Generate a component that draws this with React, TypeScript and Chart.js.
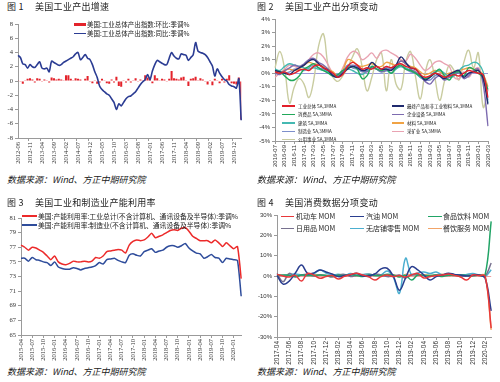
import React, { useEffect, useRef } from "react";
import { Chart, registerables } from "chart.js";
Chart.register(...registerables);

const CJK = '"Noto Sans CJK SC", "Noto Sans", sans-serif';
const SERIF = '"Liberation Serif", "DejaVu Serif", serif';
const SANS = '"Liberation Sans", "DejaVu Sans", sans-serif';

function monthLabels(y: number, m: number, n: number): string[] {
  const out: string[] = [];
  for (let i = 0; i < n; i++) {
    const t = m - 1 + i;
    out.push(`${y + Math.floor(t / 12)}-${String((t % 12) + 1).padStart(2, "0")}`);
  }
  return out;
}

// ---------- Chart 1 ----------
const c1Labels = monthLabels(2012, 6, 94);
const c1YoY = [
  3.6, 3.3, 2.4, 2.3, 1.8, 2.3, 2.0, 1.9, 2.3, 2.7,
  1.8, 1.7, 1.8, 1.3, 2.8, 2.6, 2.4, 2.2, 2.3, 2.6,
  2.8, 3.0, 3.2, 3.4, 3.8, 4.0, 3.0, 3.3, 3.7, 3.2,
  3.0, 2.3, 1.3, 0.5, -0.7, -1.2, -1.5, -1.8, -2.0, -2.5,
  -3.0, -4.0, -3.2, -3.5, -3.0, -2.5, -2.2, -2.1, -1.8, -1.5,
  -1.0, -0.5, -0.1, 0.2, 0.9, 0.2, 1.4, 2.3, 2.9, 2.7,
  2.5, 2.3, 2.3, 3.2, 4.0, 3.5, 3.2, 3.1, 3.8, 3.7,
  3.6, 2.9, 3.3, 3.7, 5.4, 4.2, 4.0, 3.9, 3.7, 3.3,
  2.7, 2.1, 0.7, 1.7, 1.1, 0.6, 0.2, 0.0, -0.5, -0.7,
  -0.8, -1.0, 0.3, -5.5,
];
const c1MoM = [
  0.1, -0.1, -0.4, 0.1, 0.3, 0.4, 0.2, -0.2, 0.4, 0.3,
  -0.1, 0.2, 0.1, -0.2, 0.5, 0.4, 0.2, 0.3, 0.2, 0.1,
  0.8, 0.8, 0.3, 0.1, 0.4, 0.3, 0.2, 0.0, 0.3, 0.7,
  -0.1, -0.3, 0.1, -0.4, -0.2, 0.3, 0.1, -0.3, -0.4, 0.2,
  -0.2, 0.6, -0.7, -0.8, 0.1, -0.2, 0.3, -0.2, 0.1, 0.4,
  -0.1, 0.2, 0.1, 0.8, 0.5, 0.5, -0.3, 0.8, 0.4, 0.1,
  0.3, 0.2, -0.1, 0.3, 1.4, 0.4, 0.3, 0.2, 0.5, 0.6,
  0.1, -0.7, 0.3, 0.4, 0.6, 0.1, 0.4, 0.2, -0.1, -0.5,
  0.1, -0.6, 0.3, 0.1, -0.3, 0.3, -0.2, 0.3, 0.8, -0.3,
  -0.4, -0.5, 0.5, -5.4,
];

// ---------- Chart 2 ----------
const c2Labels = monthLabels(2016, 7, 45);
const c2Total = [
  0.1, 0.0, 0.1, -0.1, 0.0, 0.2, 0.3, 0.2, 0.5, 0.6,
  0.4, 0.2, 0.0, -0.3, -0.1, 0.5, 0.8, 0.6, 0.3, 0.4,
  0.3, 0.5, 0.3, 0.5, 0.4, 0.6, 0.7, 0.5, 0.4, 0.3,
  -0.1, -0.3, -0.2, 0.0, -0.1, -0.3, -0.2, -0.1, -0.2, 0.0,
  0.2, 0.1, 0.0, -0.1, -1.8,
];
const c2Final = [
  0.2, 0.1, 0.0, -0.1, 0.2, 0.4, 0.6, 0.9, 1.0, 0.7,
  0.4, 0.2, -0.2, -0.3, 0.0, 0.3, 0.5, 0.4, 0.2, 0.3,
  0.8, 0.5, 0.3, 0.3, 0.2, 0.6, 1.2, 0.8, 0.4, 0.3,
  -0.1, -0.5, -0.3, 0.0, -0.2, -0.4, -0.1, 0.1, 0.2, -0.3,
  0.0, 0.1, 0.2, -0.4, -2.3,
];
const c2Consumer = [
  0.2, 0.1, -0.2, -0.5, -0.5, -0.2, 0.3, 0.5, 0.7, 0.4,
  0.2, 0.0, -0.2, -0.1, 0.2, 0.4, 0.5, 0.3, -0.4, -0.2,
  0.5, 0.3, 0.2, 0.3, 0.0, 0.4, 0.6, 0.3, 0.2, 0.0,
  -0.2, -0.4, -0.3, 0.0, 0.3, -0.2, -0.5, 0.0, 0.1, -0.2,
  0.4, 0.3, 0.0, -0.3, -1.2,
];
const c2Equip = [
  0.0, -0.1, 0.2, 0.4, 0.6, 0.5, 0.7, 1.0, 1.1, 0.8,
  0.6, 0.3, -0.1, -0.2, 0.1, 0.5, 0.6, 0.5, 0.2, 0.1,
  0.4, 0.3, 0.1, 0.2, 0.3, 0.5, 0.9, 0.7, 0.3, 0.1,
  -0.2, -0.6, -0.8, -0.4, -0.2, -0.5, -0.3, -0.1, 0.0, -0.4,
  -0.2, 0.2, 0.3, -0.8, -3.9,
];
const c2Construction = [
  0.3, 0.2, 0.5, 0.7, 0.6, 0.5, 0.4, 0.3, 0.4, 0.3,
  0.2, 0.1, -0.2, -0.1, 0.2, 0.3, 0.2, 0.0, -0.1, 0.2,
  0.5, 0.3, 0.1, 0.2, 0.0, 0.3, 0.5, 0.4, 0.2, 0.0,
  -0.3, -0.4, -0.2, 0.1, 0.2, 0.0, -0.3, -0.2, 0.2, 0.5,
  0.6, 0.8, 0.7, 0.1, -2.2,
];
const c2Materials = [
  0.1, 0.0, 0.2, 0.3, 0.2, 0.3, 0.6, 0.8, 0.7, 0.6,
  0.5, 0.3, 0.1, -0.2, 0.2, 1.0, 0.9, 0.6, 0.5, 0.6,
  0.7, 0.5, 0.5, 0.8, 0.7, 0.6, 0.9, 0.7, 0.5, 0.4,
  0.1, -0.1, 0.0, 0.2, 0.1, -0.1, 0.0, 0.1, 0.2, 0.3,
  0.4, 0.3, 0.2, -0.1, -1.0,
];
const c2Manuf = [
  0.1, 0.1, 0.0, 0.1, 0.3, 0.3, 0.2, 0.4, 0.6, 0.4,
  0.3, 0.1, -0.1, -0.2, 0.1, 0.6, 0.4, 0.3, 0.1, 0.2,
  0.4, 0.3, 0.2, 0.4, 0.3, 0.4, 0.5, 0.3, 0.1, 0.0,
  -0.3, -0.5, -0.5, -0.2, -0.1, -0.3, -0.2, 0.0, 0.1, -0.2,
  -0.1, 0.1, 0.0, -0.3, -2.0,
];
const c2Mining = [
  -0.3, 0.0, 0.3, 0.6, 0.5, 0.4, 0.6, 1.0, 1.4, 1.5,
  1.2, 0.6, 0.0, -0.2, 0.4, 1.2, 1.6, 1.5, 1.0, 1.2,
  1.5, 1.1, 1.6, 1.7, 1.5, 1.3, 1.0, 0.9, 1.4, 1.1,
  0.6, 0.2, 0.4, 0.8, 0.9, 0.7, 0.5, -0.3, -0.4, 0.1,
  -0.3, 0.2, 0.4, -0.5, -1.3,
];
const c2Utilities = [
  0.4, 1.6, 0.3, -2.2, -1.0, -0.4, -0.8, -1.8, -0.5, 2.0,
  2.9, 0.5, -0.3, -0.6, -0.2, 0.4, 1.2, 1.8, 0.5, -1.3,
  -0.3, 1.0, 1.5, -1.3, 1.0, -0.8, -1.2, 0.8, 1.6, -0.2,
  -1.9, 0.0, 1.0, -0.3, -2.0, -0.6, 0.6, 0.2, -0.5, 0.8,
  1.7, 0.4, 1.5, -2.5, -1.2,
];

// ---------- Chart 3 ----------
const c3Labels = monthLabels(2015, 4, 60);
const c3Total = [
  77.3, 77.0, 76.6, 77.0, 76.9, 76.6, 76.3, 75.8, 75.3, 75.8,
  75.0, 74.7, 74.6, 74.8, 75.1, 75.0, 75.0, 75.1, 75.0, 75.1,
  75.6, 75.5, 75.8, 76.4, 76.5, 76.6, 76.7, 76.6, 76.2, 77.3,
  77.8, 78.0, 77.9, 78.0, 78.4, 78.9, 78.3, 78.5, 78.7, 79.0,
  79.3, 79.4, 79.3, 79.6, 79.7, 79.2, 78.5, 78.2, 77.9, 77.9,
  77.9, 77.6, 78.0, 77.6, 77.1, 77.6, 77.2, 76.8, 77.1, 72.7,
];
const c3Manuf = [
  75.5, 75.5, 75.1, 75.6, 75.3, 75.2, 75.0, 74.9, 74.5, 75.0,
  74.3, 74.1, 74.0, 74.0, 74.2, 74.1, 73.9, 74.1, 74.2, 74.3,
  74.5, 74.9, 74.7, 75.3, 75.4, 75.5, 75.2, 75.0, 74.9, 75.9,
  76.1, 75.9, 75.8, 76.4, 76.6, 76.8, 76.3, 76.5, 76.6, 77.0,
  77.2, 77.2, 77.0, 77.2, 77.5, 76.9, 76.5, 76.2, 76.1, 75.5,
  75.7, 76.0, 75.6, 75.5, 74.9, 75.5, 75.4, 75.3, 75.2, 70.3,
];

// ---------- Chart 4 ----------
const c4Labels = monthLabels(2017, 4, 36);
const c4Auto = [
  0.8, 0.0, -0.5, 0.3, -2.5, 1.3, 0.5, -1.1, -0.3, 0.2, -1.5, -0.2,
  0.7, 1.3, 0.5, -0.4, -2.0, -0.3, 0.5, -0.3, 0.2, -0.5, 0.5, 1.3,
  -1.0, -0.2, 0.3, 0.5, 1.0, 0.3, -0.5, -2.0, 0.5, 0.2, 0.0, -25.6,
];
const c4Gas = [
  0.3, -4.0, -2.5, 1.5, 5.4, 1.3, 1.5, 3.0, 2.0, 1.0, -0.3, 0.2,
  0.5, 1.3, 0.0, 0.2, 1.0, 3.5, 3.8, 0.0, -7.0, -1.0, 4.6, 3.0,
  0.5, -2.0, -0.3, 0.5, 1.3, 0.8, 0.5, 0.0, 0.3, 0.5, -1.0, -17.2,
];
const c4Food = [
  0.2, 0.5, 0.3, -0.2, 0.5, 0.3, 0.2, 0.5, 0.3, 0.0, 0.4, 0.2,
  0.6, 0.3, -0.2, 0.5, 0.3, 0.2, 0.8, 0.5, -0.5, 0.3, -2.0, 0.5,
  0.3, 0.2, 0.5, -0.3, 0.4, 0.2, 0.5, 0.3, 0.1, 0.5, 0.5, 26.9,
];
const c4General = [
  1.3, -2.8, 1.3, -0.5, 0.5, 0.8, 0.0, 0.5, 0.3, -0.5, 0.5, 0.8,
  -0.2, 0.3, 0.5, -0.3, 1.0, 0.5, -0.3, 0.0, 0.5, -1.0, 0.8, 0.5,
  0.3, -0.2, 0.5, 0.3, 0.2, 0.5, -0.3, 0.2, 0.5, 0.3, 0.0, 6.4,
];
const c4Nonstore = [
  0.5, 0.3, 0.8, 1.0, 0.5, 0.2, 1.0, 3.0, 1.5, 0.5, 0.8, 0.2,
  1.2, 0.5, 0.8, 1.0, 0.2, 0.5, 2.5, -0.5, -8.5, 8.7, 0.5, 1.5,
  2.0, 1.2, 2.0, 0.5, 1.0, 0.5, 0.3, 0.8, 1.2, 0.5, -0.2, 3.1,
];
const c4Dining = [
  0.5, 0.3, 0.8, 0.2, 0.5, 0.3, 0.7, 0.5, 0.2, 0.4, 0.5, 0.3,
  0.8, 0.5, 0.4, 1.0, 0.3, 0.5, 0.2, 0.6, -0.3, 0.8, 0.5, 0.4,
  0.6, 0.3, 0.5, 0.8, 0.3, 0.5, 0.4, 0.6, 0.3, 0.5, 0.2, -26.5,
];

// ---------- helpers ----------
const TRANSPARENT = "rgba(0,0,0,0)";

function xScale(labels: string[], every: number, size: number, family: string, h: number) {
  return {
    type: "category",
    offset: false,
    grid: {
      display: true,
      drawOnChartArea: false,
      drawTicks: true,
      tickLength: 3,
      color: (c: any) => (c.index % every === 0 ? "#9a9a9a" : TRANSPARENT),
    },
    border: { display: true, color: "#9a9a9a", width: 1 },
    ticks: {
      autoSkip: false,
      maxRotation: 90,
      minRotation: 90,
      padding: 1,
      color: "#333",
      font: { size, family },
      callback: (_v: any, i: number) => (i % every === 0 ? labels[i] : ""),
    },
    afterFit: (s: any) => {
      s.height = h;
    },
  };
}

function yScale(
  min: number,
  max: number,
  step: number,
  fmt: (v: number) => string,
  size: number,
  family: string,
  w: number,
  zeroColor?: string
) {
  return {
    min,
    max,
    ticks: {
      stepSize: step,
      color: "#333",
      padding: 2,
      font: { size, family },
      callback: (v: any) => fmt(Number(v)),
    },
    grid: {
      drawOnChartArea: !!zeroColor,
      color: (c: any) => (zeroColor && c.tick && c.tick.value === 0 ? zeroColor : TRANSPARENT),
      tickColor: "#9a9a9a",
      tickLength: 3,
    },
    border: { display: true, color: "#9a9a9a" },
    afterFit: (s: any) => {
      s.width = w;
    },
  };
}

function baseOptions(padding: any, x: any, y: any) {
  return {
    animation: false,
    responsive: false,
    maintainAspectRatio: false,
    devicePixelRatio: 1,
    events: [],
    layout: { padding },
    plugins: { legend: { display: false }, tooltip: { enabled: false }, title: { display: false } },
    scales: { x, y },
  };
}

function line(data: number[], color: string, width: number, tension: number) {
  return {
    type: "line",
    data,
    borderColor: color,
    backgroundColor: color,
    borderWidth: width,
    pointRadius: 0,
    tension,
    fill: false,
  };
}

// ---------- configs ----------
function config1(): any {
  return {
    type: "bar",
    data: {
      labels: c1Labels,
      datasets: [
        line(c1YoY, "#2B3C93", 1.6, 0.3),
        {
          type: "bar",
          data: c1MoM,
          backgroundColor: "#E3232B",
          barPercentage: 0.85,
          categoryPercentage: 1,
        },
      ],
    },
    options: baseOptions(
      { left: 0, top: 10, right: 8, bottom: 0 },
      xScale(c1Labels, 5, 6.5, SERIF, 32),
      yScale(-8, 8, 2, (v) => String(v), 6.5, SERIF, 18)
    ),
  };
}

function config2(): any {
  return {
    type: "line",
    data: {
      labels: c2Labels,
      datasets: [
        line(c2Total, "#E2202A", 1.4, 0.4),
        line(c2Final, "#1F2A6E", 1.4, 0.4),
        line(c2Consumer, "#21A85A", 1.4, 0.4),
        line(c2Equip, "#7D6BB0", 1.4, 0.4),
        line(c2Construction, "#45B9B2", 1.4, 0.4),
        line(c2Materials, "#F0A345", 1.4, 0.4),
        line(c2Manuf, "#7D8FCB", 1.4, 0.4),
        line(c2Mining, "#E9A3B2", 1.4, 0.4),
        line(c2Utilities, "#C9CCA0", 1.4, 0.4),
      ],
    },
    options: baseOptions(
      { left: 0, top: 9, right: 12, bottom: 0 },
      xScale(c2Labels, 2, 6, SANS, 29),
      yScale(-5, 4, 1, (v) => `${v}%`, 6, SANS, 25, "#9A9AD8")
    ),
  };
}

function config3(): any {
  return {
    type: "line",
    data: {
      labels: c3Labels,
      datasets: [line(c3Total, "#EC2A2A", 1.5, 0.2), line(c3Manuf, "#2E4C9B", 1.5, 0.2)],
    },
    options: baseOptions(
      { left: 0, top: 13, right: 7.5, bottom: 0 },
      xScale(c3Labels, 3, 6.5, SERIF, 30),
      yScale(65, 81, 2, (v) => String(v), 6.5, SERIF, 21)
    ),
  };
}

function config4(): any {
  return {
    type: "line",
    data: {
      labels: c4Labels,
      datasets: [
        line(c4Auto, "#E8383A", 1.5, 0.4),
        line(c4Gas, "#2A3E8F", 1.5, 0.4),
        line(c4Food, "#21A466", 1.5, 0.4),
        line(c4General, "#77718F", 1.5, 0.4),
        line(c4Nonstore, "#4CAFD0", 1.5, 0.4),
        line(c4Dining, "#F2A468", 1.5, 0.4),
      ],
    },
    options: baseOptions(
      { left: 0, top: 10, right: 8, bottom: 0 },
      xScale(c4Labels, 2, 6.5, SANS, 28),
      yScale(-30, 30, 10, (v) => `${v}%`, 6, SANS, 27, "#EFA0A0")
    ),
  };
}

// ---------- components ----------
function ChartCanvas(props: { left: number; top: number; width: number; height: number; make: () => any }) {
  const ref = useRef<HTMLCanvasElement>(null);
  useEffect(() => {
    const chart = new Chart(ref.current as HTMLCanvasElement, props.make());
    return () => chart.destroy();
  }, []);
  return (
    <canvas
      ref={ref}
      width={props.width}
      height={props.height}
      style={{ position: "absolute", left: props.left, top: props.top, width: props.width, height: props.height }}
    />
  );
}

function Txt(props: {
  x: number;
  y: number;
  size: number;
  children: any;
  italic?: boolean;
  color?: string;
  family?: string;
  spacing?: number;
}) {
  const lh = Math.round(props.size * 1.5);
  return (
    <div
      style={{
        position: "absolute",
        left: props.x,
        top: props.y - lh / 2,
        fontSize: props.size,
        lineHeight: `${lh}px`,
        fontFamily: props.family || CJK,
        fontStyle: props.italic ? "italic" : "normal",
        color: props.color || "#222",
        letterSpacing: props.spacing || 0,
        whiteSpace: "nowrap",
      }}
    >
      {props.children}
    </div>
  );
}

function Leg(props: { x: number; w: number; y: number; color: string; thick: number; textX: number; size: number; text: string }) {
  return (
    <>
      <div
        style={{
          position: "absolute",
          left: props.x,
          top: props.y - props.thick / 2,
          width: props.w,
          height: props.thick,
          background: props.color,
        }}
      />
      <Txt x={props.textX} y={props.y} size={props.size}>
        {props.text}
      </Txt>
    </>
  );
}

const SOURCE = "数据来源：Wind、方正中期研究院";

export default function App() {
  return (
    <div style={{ position: "absolute", left: 0, top: 0, width: 500, height: 382, background: "#fff", overflow: "hidden" }}>
      {/* Chart 1 */}
      <ChartCanvas left={0} top={14} width={250} height={156} make={config1} />
      <Txt x={7} y={6.7} size={9} spacing={0.3}>图 1</Txt>
      <Txt x={35} y={6.7} size={9} spacing={0.3}>美国工业产出增速</Txt>
      <Leg x={74} w={12} y={24.3} color="#E3232B" thick={3.5} textX={87} size={6.5} text="美国:工业总体产出指数:环比:季调%" />
      <Leg x={74} w={12} y={33.3} color="#2B3C93" thick={1.5} textX={87} size={6.5} text="美国:工业总体产出指数:同比:季调%" />
      <Txt x={7} y={180} size={9} italic>{SOURCE}</Txt>

      {/* Chart 2 */}
      <ChartCanvas left={250} top={10} width={250} height={160} make={config2} />
      <Txt x={257} y={6.7} size={9} spacing={0.3}>图 2</Txt>
      <Txt x={285} y={6.7} size={9} spacing={0.3}>美国工业产出分项变动</Txt>
      <Leg x={282} w={13} y={106} color="#E2202A" thick={1.3} textX={298} size={4.5} text="工业总体 SA,3MMA" />
      <Leg x={282} w={13} y={114.5} color="#21A85A" thick={1.3} textX={298} size={4.5} text="消费品 SA,3MMA" />
      <Leg x={282} w={13} y={123} color="#45B9B2" thick={1.3} textX={298} size={4.5} text="建筑 SA,3MMA" />
      <Leg x={282} w={13} y={131.5} color="#7D8FCB" thick={1.3} textX={298} size={4.5} text="制造业 SA,3MMA" />
      <Leg x={282} w={13} y={139.5} color="#C9CCA0" thick={1.3} textX={298} size={4.5} text="公用事业 SA,3MMA" />
      <Leg x={392} w={12} y={106} color="#1F2A6E" thick={1.3} textX={407} size={4.5} text="最终产品和非工业物料 SA,3MMA" />
      <Leg x={392} w={12} y={114.5} color="#7D6BB0" thick={1.3} textX={407} size={4.5} text="企业设备 SA,3MMA" />
      <Leg x={392} w={12} y={123} color="#F0A345" thick={1.3} textX={407} size={4.5} text="材料 SA,3MMA" />
      <Leg x={392} w={12} y={131.5} color="#E9A3B2" thick={1.3} textX={407} size={4.5} text="采矿业 SA,3MMA" />
      <Txt x={257} y={180} size={9} italic>{SOURCE}</Txt>

      {/* Chart 3 */}
      <ChartCanvas left={0} top={205} width={250} height={160} make={config3} />
      <Txt x={7} y={202.7} size={9} spacing={0.3}>图 3</Txt>
      <Txt x={35} y={202.7} size={9} spacing={0.3}>美国工业和制造业产能利用率</Txt>
      <Leg x={22} w={15} y={216} color="#EC2A2A" thick={1.5} textX={38} size={6.8} text="美国:产能利用率:工业总计(不含计算机、通讯设备及半导体):季调%" />
      <Leg x={22} w={15} y={225} color="#2E4C9B" thick={1.5} textX={38} size={6.8} text="美国:产能利用率:制造业(不含计算机、通讯设备及半导体):季调%" />
      <Txt x={7} y={372} size={9} italic>{SOURCE}</Txt>

      {/* Chart 4 */}
      <ChartCanvas left={250} top={205} width={250} height={160} make={config4} />
      <Txt x={257} y={202.7} size={9} spacing={0.3}>图 4</Txt>
      <Txt x={285} y={202.7} size={9} spacing={0.3}>美国消费数据分项变动</Txt>
      <Leg x={281} w={13} y={216.7} color="#E8383A" thick={1.3} textX={296} size={7} text="机动车 MOM" />
      <Leg x={350} w={14} y={216.7} color="#2A3E8F" thick={1.3} textX={366} size={7} text="汽油 MOM" />
      <Leg x={428} w={14} y={216.7} color="#21A466" thick={1.3} textX={443} size={7} text="食品饮料 MOM" />
      <Leg x={281} w={13} y={228.5} color="#77718F" thick={1.3} textX={296} size={7} text="日用品 MOM" />
      <Leg x={350} w={14} y={228.5} color="#4CAFD0" thick={1.3} textX={366} size={7} text="无店铺零售 MOM" />
      <Leg x={428} w={14} y={228.5} color="#F2A468" thick={1.3} textX={443} size={7} text="餐饮服务 MOM" />
      <Txt x={257} y={372} size={9} italic>{SOURCE}</Txt>
    </div>
  );
}
